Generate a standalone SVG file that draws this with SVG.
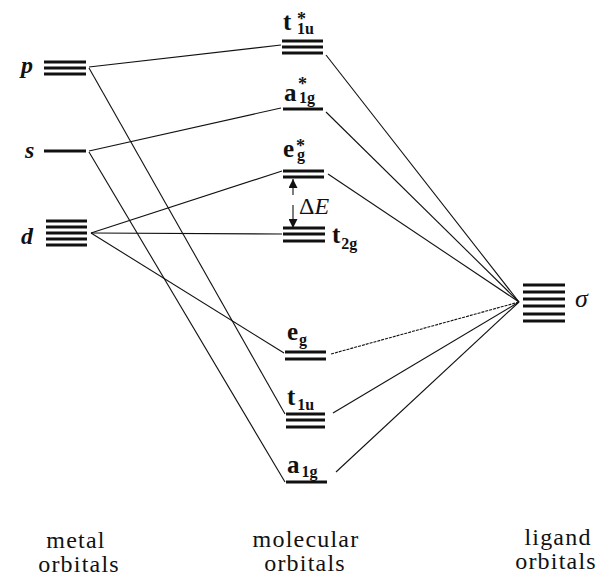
<svg xmlns="http://www.w3.org/2000/svg" width="597" height="578" viewBox="0 0 597 578" font-family="'Liberation Serif', 'DejaVu Serif', serif">
<style>
.lv{stroke:#111;stroke-width:3;fill:none}
.cn{stroke:#111;stroke-width:1.1;fill:none}
text{font-family:'Liberation Serif','DejaVu Serif',serif;fill:#111}
.ax{font-size:24px;font-style:italic;font-weight:bold}
.mo{font-size:25px;font-weight:bold}
.sub{font-size:16px}
.st{font-size:18px}
.bt{font-size:24px;text-anchor:middle;letter-spacing:1.2px}
</style>
<defs>
<marker id="ah" viewBox="0 0 10 10" refX="10" refY="5" markerWidth="9" markerHeight="9" markerUnits="userSpaceOnUse" orient="auto">
<path d="M0,0 L10,5 L0,10 z" fill="#111"/>
</marker>
</defs>
<rect width="597" height="578" fill="#fff"/>

<g id="connectors">
<line class="cn" x1="89" y1="67" x2="281" y2="45"/>
<line class="cn" x1="89" y1="68" x2="285" y2="414"/>
<line class="cn" x1="89" y1="151" x2="281" y2="108"/>
<line class="cn" x1="89" y1="152" x2="285" y2="482"/>
<line class="cn" x1="91" y1="233" x2="282" y2="171"/>
<line class="cn" x1="91" y1="233" x2="282" y2="234"/>
<line class="cn" x1="91" y1="233" x2="284" y2="353"/>
<line class="cn" x1="519" y1="302" x2="326" y2="55"/>
<line class="cn" x1="519" y1="302" x2="326" y2="112"/>
<line class="cn" x1="519" y1="302" x2="328" y2="174"/>
<line class="cn" x1="519" y1="302" x2="331" y2="354" stroke-dasharray="3 1"/>
<line class="cn" x1="519" y1="302" x2="333" y2="413"/>
<line class="cn" x1="519" y1="302" x2="336" y2="472"/>
</g>

<g id="metal-p">
<line class="lv" x1="44" y1="62" x2="86" y2="62"/>
<line class="lv" x1="44" y1="68" x2="86" y2="68"/>
<line class="lv" x1="44" y1="74" x2="86" y2="74"/>
<text class="ax" x="21" y="73">p</text>
</g>
<g id="metal-s">
<line class="lv" x1="44" y1="151" x2="86" y2="151"/>
<text class="ax" x="25" y="158">s</text>
</g>
<g id="metal-d">
<line class="lv" x1="46" y1="221" x2="87" y2="221"/>
<line class="lv" x1="46" y1="227" x2="87" y2="227"/>
<line class="lv" x1="46" y1="233" x2="87" y2="233"/>
<line class="lv" x1="46" y1="239" x2="87" y2="239"/>
<line class="lv" x1="46" y1="245" x2="87" y2="245"/>
<text class="ax" x="21" y="244">d</text>
</g>

<g id="mo-t1u-star">
<line class="lv" x1="282" y1="41" x2="323" y2="41"/>
<line class="lv" x1="282" y1="47" x2="323" y2="47"/>
<line class="lv" x1="282" y1="53" x2="323" y2="53"/>
<text class="mo" x="283" y="30">t<tspan class="st" x="297" y="25">*</tspan><tspan class="sub" x="297" y="34">1u</tspan></text>
</g>
<g id="mo-a1g-star">
<line class="lv" x1="283" y1="109" x2="323" y2="109"/>
<text class="mo" x="284" y="101">a<tspan class="st" x="298" y="90">*</tspan><tspan class="sub" x="299" y="103">1g</tspan></text>
</g>
<g id="mo-eg-star">
<line class="lv" x1="283" y1="171" x2="324" y2="171"/>
<line class="lv" x1="283" y1="177" x2="324" y2="177"/>
<text class="mo" x="283" y="157">e<tspan class="st" x="296" y="152">*</tspan><tspan class="sub" x="297" y="160">g</tspan></text>
</g>
<g id="delta-e">
<line class="cn" x1="293" y1="195" x2="293" y2="179" stroke-width="1.8" marker-end="url(#ah)"/>
<line class="cn" x1="293" y1="205" x2="293" y2="228" stroke-width="1.8" marker-end="url(#ah)"/>
<text x="299" y="214" font-size="24">Δ<tspan font-style="italic">E</tspan></text>
</g>
<g id="mo-t2g">
<line class="lv" x1="283" y1="228" x2="325" y2="228"/>
<line class="lv" x1="283" y1="234" x2="325" y2="234"/>
<line class="lv" x1="283" y1="241" x2="325" y2="241"/>
<text class="mo" x="332" y="243">t<tspan class="sub" dx="1" y="249">2g</tspan></text>
</g>
<g id="mo-eg">
<line class="lv" x1="285" y1="352" x2="326" y2="352"/>
<line class="lv" x1="285" y1="359" x2="326" y2="359"/>
<text class="mo" x="287" y="340">e<tspan class="sub" dx="1" y="345">g</tspan></text>
</g>
<g id="mo-t1u">
<line class="lv" x1="286" y1="414" x2="325" y2="414"/>
<line class="lv" x1="286" y1="420" x2="325" y2="420"/>
<line class="lv" x1="286" y1="427" x2="325" y2="427"/>
<text class="mo" x="287" y="405">t<tspan class="sub" dx="2" y="410">1u</tspan></text>
</g>
<g id="mo-a1g">
<line class="lv" x1="286" y1="482" x2="327" y2="482"/>
<text class="mo" x="287" y="473">a<tspan class="sub" dx="2" y="477">1g</tspan></text>
</g>

<g id="ligand-sigma">
<line class="lv" x1="523" y1="285" x2="565" y2="285"/>
<line class="lv" x1="523" y1="292" x2="565" y2="292"/>
<line class="lv" x1="523" y1="299" x2="565" y2="299"/>
<line class="lv" x1="523" y1="306" x2="565" y2="306"/>
<line class="lv" x1="523" y1="314" x2="565" y2="314"/>
<line class="lv" x1="523" y1="321" x2="565" y2="321"/>
<text x="575" y="307" font-size="26" font-style="italic">σ</text>
</g>

<g id="captions">
<text class="bt" x="76" y="548">metal</text>
<text class="bt" x="79" y="572">orbitals</text>
<text class="bt" x="306" y="547">molecular</text>
<text class="bt" x="305" y="571">orbitals</text>
<text class="bt" x="558" y="545">ligand</text>
<text class="bt" x="556" y="569" letter-spacing="0.6">orbitals</text>
</g>
</svg>
